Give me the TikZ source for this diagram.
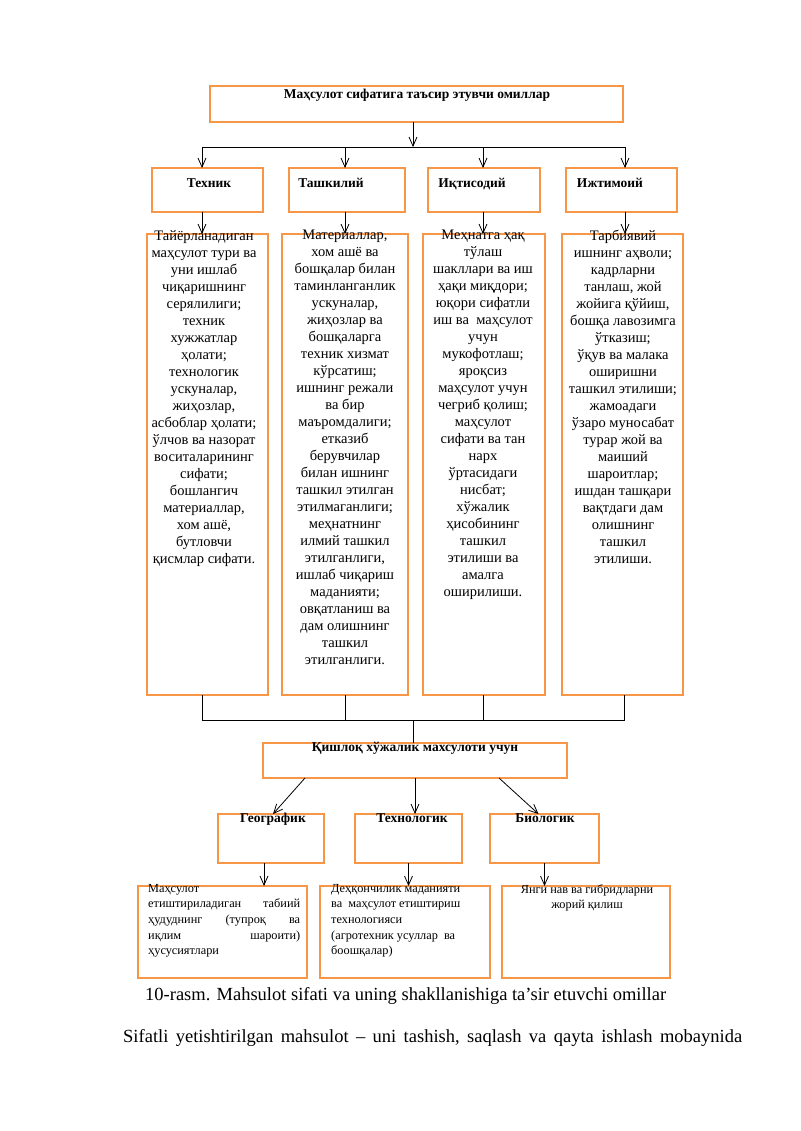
\documentclass[tikz,border=0pt]{standalone}
\usepackage{fontspec}
\setmainfont{Liberation Serif}
\usetikzlibrary{arrows.meta,positioning,fit}
\definecolor{boxorange}{HTML}{F79646}

\begin{document}
\begin{tikzpicture}[x=1pt,y=-1pt,
  obox/.style={draw=boxorange,line width=2.6pt,fill=white,inner sep=0pt,outer sep=0pt},
  htext/.style={font=\bfseries\fontsize{13.5}{15}\selectfont,inner sep=0pt,anchor=base},
  btext/.style={font=\fontsize{14.5}{17}\selectfont,align=center,inner sep=0pt,anchor=north},
  stext/.style={font=\fontsize{12.3}{15.6}\selectfont,inner sep=0pt,anchor=north west},
  arr/.style={-{Straight Barb[length=9pt,width=8pt]},line width=0.8pt},
  link/.style={line width=0.8pt}]

\useasboundingbox (0,0) rectangle (800,1131);

% The top box
\node[obox, fit={(210,86) (623,122)}] (top) {};
\node[htext] (topT) at (417,99) {Маҳсулот сифатига таъсир этувчи омиллар};

% The four groups of factors
\foreach \n/\xa/\xb in {1/152/263, 2/289/405, 3/428/540, 4/566/677}{
\node[obox, fit={(\xa,168) (\xb,212)}] (mid\n) {};
}
\foreach \n/\xa/\xb in {1/147/268, 2/282/408, 3/423/545, 4/562/683}{
\node[obox, fit={(\xa,234) (\xb,695)}] (big\n) {};
}
\node[htext] (midT1) at (209,188) {Техник};
\node[htext] (midT2) at (331,188) {Ташкилий};
\node[htext] (midT3) at (472,188) {Иқтисодий};
\node[htext] (midT4) at (610,188) {Ижтимоий};

\node[btext] (bigT1) at (204,230) {Тайёрланадиган\\ маҳсулот тури ва\\ уни ишлаб\\ чиқаришнинг\\ серялилиги;\\ техник\\ хужжатлар\\ ҳолати;\\ технологик\\ ускуналар,\\ жиҳозлар,\\ асбоблар ҳолати;\\ ўлчов ва назорат\\ воситаларининг\\ сифати;\\ бошлангич\\ материаллар,\\ хом ашё,\\ бутловчи\\ қисмлар сифати.};
\node[btext] (bigT2) at (345,230) {Материаллар,\\ хом ашё ва\\ бошқалар билан\\ таминланганлик\\ ускуналар,\\ жиҳозлар ва\\ бошқаларга\\ техник хизмат\\ кўрсатиш;\\ ишнинг режали\\ ва бир\\ маъромдалиги;\\ етказиб\\ берувчилар\\ билан ишнинг\\ ташкил этилган\\ этилмаганлиги;\\ меҳнатнинг\\ илмий ташкил\\ этилганлиги,\\ ишлаб чиқариш\\ маданияти;\\ овқатланиш ва\\ дам олишнинг\\ ташкил\\ этилганлиги.};
\node[btext] (bigT3) at (483,230) {Меҳнатга ҳақ\\ тўлаш\\ шакллари ва иш\\ ҳақи миқдори;\\ юқори сифатли\\ иш ва\ \ маҳсулот\\ учун\\ мукофотлаш;\\ яроқсиз\\ маҳсулот учун\\ чегриб қолиш;\\ маҳсулот\\ сифати ва тан\\ нарх\\ ўртасидаги\\ нисбат;\\ хўжалик\\ ҳисобининг\\ ташкил\\ этилиши ва\\ амалга\\ оширилиши.};
\node[btext] (bigT4) at (623,230) {Тарбиявий\\ ишнинг аҳволи;\\ кадрларни\\ танлаш, жой\\ жойига қўйиш,\\ бошқа лавозимга\\ ўтказиш;\\ ўқув ва малака\\ оширишни\\ ташкил этилиши;\\ жамоадаги\\ ўзаро муносабат\\ турар жой ва\\ маиший\\ шароитлар;\\ ишдан ташқари\\ вақтдаги дам\\ олишнинг\\ ташкил\\ этилиши.};

% The bus lines
\coordinate (hub) at (413,147);
\coordinate (col1) at (202,147);
\coordinate (col2) at (345,147);
\coordinate (col3) at (483,147);
\coordinate (col4) at (625,147);
\draw[arr] (top.south -| hub) -- (hub);
\draw[link] (col1) -- (col4);
\foreach \n in {1,...,4}{
\draw[arr] (col\n) -- (col\n |- mid\n.north);
\draw[arr] (mid\n.south -| col\n) -- (big\n.north -| col\n);
}

\coordinate (join) at (413,720);
\coordinate (low1) at (202,720);
\coordinate (low2) at (345,720);
\coordinate (low3) at (483,720);
\coordinate (low4) at (624,720);
\draw[link] (big1.south -| low1) -- (low1) -- (low4) -- (big4.south -| low4);
\draw[link] (big2.south -| low2) -- (low2);
\draw[link] (big3.south -| low3) -- (low3);

% Agricultural products
\node[obox, fit={(263,743) (567,778)}] (rural) {};
\node[htext] (ruralT) at (415,751) {Қишлоқ хўжалик махсулоти учун};
\draw[link] (join) -- (rural.north -| join);

\node[obox, fit={(218,814) (324,863)}] (geo) {};
\node[obox, fit={(355,814) (462,863)}] (tech) {};
\node[obox, fit={(490,814) (599,863)}] (bio) {};
\node[htext] (geoT) at (273,822) {Географик};
\node[htext] (techT) at (412,822) {Технологик};
\node[htext] (bioT) at (545,822) {Биологик};

\draw[arr] ([xshift=42pt]rural.south west) -- ([xshift=2pt]geo.north);
\draw[arr] (rural.south) -- (rural.south |- tech.north);
\draw[arr] ([xshift=-68pt]rural.south east) -- ([xshift=-6pt]bio.north);

\node[obox, fit={(138,886) (307,978)}] (out1) {};
\node[obox, fit={(320,886) (490,978)}] (out2) {};
\node[obox, fit={(502,886) (670,978)}] (out3) {};

\draw[arr] ([xshift=-7pt]geo.south) -- ([xshift=-7pt]geo.south |- out1.north);
\draw[arr] (tech.south) -- (tech.south |- out2.north);
\draw[arr] (bio.south) -- (bio.south |- out3.north);

\node[stext, text width=152pt, align=left] (out1T) at (148,884) {Маҳсулот\\ етиштириладиган\hfill табиий\\ ҳудуднинг\hfill (тупроқ\hfill ва\\ иқлим\hfill шароити)\\ ҳусусиятлари};
\node[stext, align=left] (out2T) at (331,884) {Деҳқончилик маданияти\\ ва\ \ маҳсулот етиштириш\\ технологияси\\ (агротехник усуллар\ \ ва\\ боошқалар)};
\node[stext, align=center, anchor=north] (out3T) at (587,884) {Янги нав ва гибридларни\\ жорий қилиш};

% Caption and text
\node[font=\fontsize{18.5}{22}\selectfont, inner sep=0pt, anchor=base west] (caption) at (145,1000) {10-rasm. Mahsulot sifati va uning shakllanishiga ta’sir etuvchi omillar};
\node[font=\fontsize{18.5}{22}\selectfont, inner sep=0pt, anchor=base west, text width=619pt] (para) at (123,1042) {Sifatli\hfill yetishtirilgan\hfill mahsulot\hfill –\hfill uni\hfill tashish,\hfill saqlash\hfill va\hfill qayta\hfill ishlash\hfill mobaynida};

\end{tikzpicture}
\end{document}
